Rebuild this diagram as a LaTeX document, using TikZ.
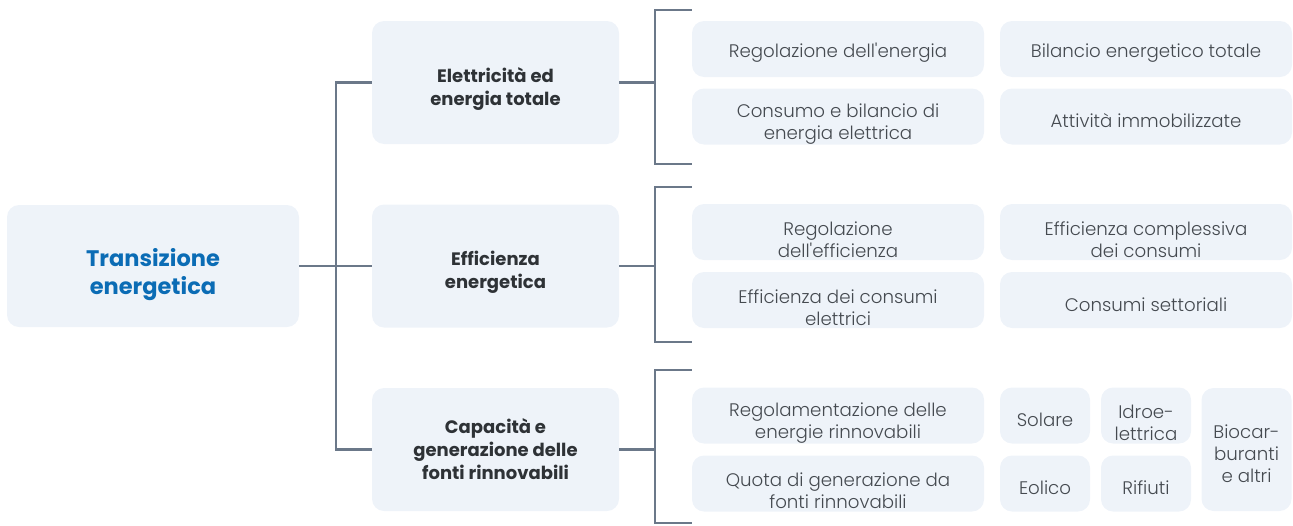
\documentclass[tikz,border=0pt]{standalone}
\usepackage{fontspec}
\setmainfont{Poppins}
\newfontfamily\lightfont{Poppins Light}[Ligatures=TeXOff]
\definecolor{boxfill}{HTML}{EEF3F9}
\definecolor{linegray}{HTML}{6B7889}
\definecolor{titleblue}{HTML}{0B6CB5}
\definecolor{textdark}{HTML}{2E3236}
\definecolor{textgray}{HTML}{454A50}
\tikzset{
  box/.style={fill=boxfill, rounded corners=12pt, align=center, inner sep=0pt, execute at begin node={\rule{0pt}{1.25em}}},
  twoline/.style={execute at begin node={\rule{0pt}{2.8em}}},
  threeline/.style={execute at begin node={\rule{0pt}{3.6em}}},
  rootbox/.style={box, twoline, minimum width=292pt, minimum height=122pt, text=titleblue, font=\fontsize{22.5}{28}\selectfont\bfseries},
  catbox/.style={box, minimum width=247pt, minimum height=123pt, text=textdark, font=\fontsize{18}{23}\selectfont\bfseries},
  leaf/.style={box, minimum width=292pt, minimum height=56pt, text=textgray, font=\lightfont\fontsize{18.2}{22}\selectfont},
  smallleaf/.style={leaf, minimum width=90pt},
  link/.style={draw=linegray, line width=2.2pt}
}
\begin{document}
\begin{tikzpicture}[x=1pt,y=-1pt]
            \useasboundingbox (0,0) rectangle (1293,525);
            \node[rootbox] (trans) at (153,266) {Transizione\\energetica};
            \node[catbox, twoline] (elet) at (495.5,82.5) {Elettricità ed\\energia totale};
            \node[catbox, twoline] (effic) at (495.5,266) {Efficienza\\energetica};
            \node[catbox] (capac) at (495.5,449.5) {Capacità e\\generazione delle\\fonti rinnovabili};
            \node[leaf] (regen) at (838,49) {Regolazione dell'energia};
            \node[leaf] (bilanc) at (1146,49) {Bilancio energetico totale};
            \node[leaf, twoline] (consel) at (838,116.5) {Consumo e bilancio di\\energia elettrica};
            \node[leaf] (attiv) at (1146,116.5) {Attività immobilizzate};
            \node[leaf, twoline] (regeff) at (838,232) {Regolazione\\dell'efficienza};
            \node[leaf, twoline] (effcom) at (1146,232) {Efficienza complessiva\\dei consumi};
            \node[leaf, twoline] (effel) at (838,300) {Efficienza dei consumi\\elettrici};
            \node[leaf] (conset) at (1146,300) {Consumi settoriali};
            \node[leaf, twoline] (regrin) at (838,415.5) {Regolamentazione delle\\energie rinnovabili};
            \node[leaf, twoline] (quota) at (838,483.5) {Quota di generazione da\\fonti rinnovabili};
            \node[smallleaf] (solare) at (1045,415.5) {Solare};
            \node[smallleaf] (eolico) at (1045,483.5) {Eolico};
            \node[smallleaf, twoline] (idro) at (1146,415.5) {Idroe-\\lettrica};
            \node[smallleaf] (rifiuti) at (1146,483.5) {Rifiuti};
            \node[smallleaf, threeline, minimum height=123pt] (biocar) at (1246.5,449.5) {Biocar-\\buranti\\e altri};
            \coordinate (trunk) at (336,266);
            \draw[link] (trans.east) -- (trunk);
            \draw[link] (elet.west) -- (elet.west -| trunk) -- (capac.west -| trunk) -- (capac.west);
            \draw[link] (effic.west) -- (effic.west -| trunk);
            \coordinate (b1t) at (655,10);
            \coordinate (b1b) at (655,164);
            \draw[link] (elet.east) -- (elet.east -| b1t);
            \draw[link] (regen.west |- b1t) -- (b1t) -- (b1b) -- (regen.west |- b1b);
            \coordinate (b2t) at (655,187);
            \coordinate (b2b) at (655,342);
            \draw[link] (effic.east) -- (effic.east -| b2t);
            \draw[link] (regeff.west |- b2t) -- (b2t) -- (b2b) -- (regeff.west |- b2b);
            \coordinate (b3t) at (655,370);
            \coordinate (b3b) at (655,523);
            \draw[link] (capac.east) -- (capac.east -| b3t);
            \draw[link] (regrin.west |- b3t) -- (b3t) -- (b3b) -- (regrin.west |- b3b);
        \end{tikzpicture}
\end{document}
